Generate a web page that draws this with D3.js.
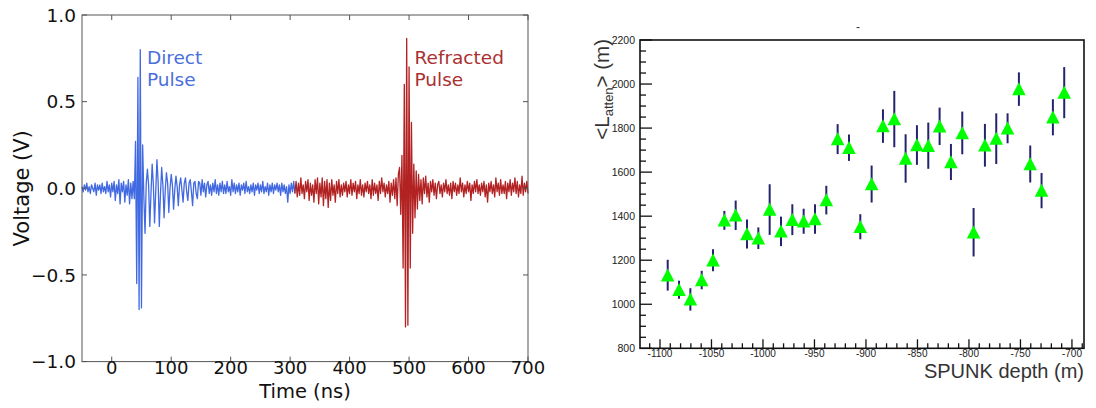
<!DOCTYPE html>
<html>
<head>
<meta charset="utf-8">
<script src="https://cdn.jsdelivr.net/npm/d3@7"></script>
<style>
  html, body { margin: 0; padding: 0; background: #fff; }
  svg { display: block; }
</style>
</head>
<body>
<svg id="fig" width="1096" height="408"></svg>
<script>
// ---------- Left panel: recorded waveform ----------
// Voltage samples (V), one every 2 ns starting at -50 ns.
const timeStartNs = -50;
const timeStepNs = 2;
const refractedStartNs = 308;
const voltage = [
  0.01, -0.02, 0.02, -0.01, 0.03, -0.02, 0.01, -0.03, 0.02, 0.00,
  -0.02, 0.03, -0.04, 0.02, -0.01, 0.02, -0.03, 0.03, -0.02, 0.01,
  -0.03, 0.04, -0.02, 0.02, -0.05, 0.03, -0.02, 0.04, -0.07, 0.02,
  -0.03, 0.05, -0.09, 0.03, -0.02, 0.04, -0.08, 0.02, -0.04, 0.05,
  -0.09, 0.03, -0.06, 0.04, -0.06, 0.27, -0.55, 0.64, -0.70, 0.80,
  -0.69, 0.25, -0.05, -0.26, 0.03, 0.11, 0.02, -0.22, -0.03, 0.14,
  0.02, -0.20, -0.02, 0.165, 0.04, -0.22, -0.03, 0.12, 0.02, -0.17,
  -0.01, 0.09, 0.03, -0.14, 0.00, 0.08, 0.02, -0.12, -0.01, 0.07,
  0.01, -0.10, 0.02, 0.06, -0.01, -0.08, 0.03, 0.06, -0.02, -0.07,
  0.03, 0.05, -0.02, -0.10, 0.03, 0.04, -0.03, -0.06, 0.04, 0.03,
  -0.04, 0.05, -0.02, 0.03, -0.05, 0.02, 0.04, -0.03, 0.02, -0.04,
  0.03, -0.02, 0.05, -0.03, 0.02, -0.04, 0.03, -0.02, 0.04, -0.03,
  0.02, -0.03, 0.04, -0.02, 0.01, -0.04, 0.05, -0.02, 0.03, -0.03,
  0.02, -0.02, 0.03, -0.04, 0.02, -0.01, 0.03, -0.03, 0.04, -0.02,
  0.01, -0.03, 0.02, -0.02, 0.03, -0.04, 0.02, -0.01, 0.03, -0.03,
  0.02, -0.02, 0.04, -0.03, 0.01, -0.02, 0.03, -0.04, 0.02, -0.02,
  0.03, -0.03, 0.02, -0.01, 0.03, -0.02, 0.02, -0.04, 0.03, -0.02,
  0.02, -0.03, 0.01, -0.08, 0.02, -0.03, 0.03, -0.02, 0.04, -0.03,
  0.04, -0.05, 0.03, -0.04, 0.06, -0.03, 0.02, -0.06, 0.04, -0.02,
  0.05, -0.07, 0.03, -0.04, 0.02, -0.08, 0.05, -0.03, 0.06, -0.09,
  0.03, -0.05, 0.06, -0.10, 0.04, -0.06, 0.05, -0.11, 0.03, -0.07,
  0.05, -0.04, 0.02, -0.08, 0.04, -0.03, 0.05, -0.05, 0.02, -0.04,
  0.03, -0.02, 0.04, -0.05, 0.02, -0.03, 0.05, -0.04, 0.03, -0.02,
  0.04, -0.06, 0.02, -0.03, 0.05, -0.04, 0.02, -0.05, 0.03, -0.02,
  0.04, -0.03, 0.02, -0.06, 0.05, -0.04, 0.03, -0.03, 0.02, -0.07,
  0.04, -0.03, 0.06, -0.02, 0.03, -0.05, 0.02, -0.03, 0.04, -0.08,
  0.03, -0.04, 0.05, -0.06, 0.06, -0.10, 0.08, 0.12, -0.15, 0.19,
  -0.46, 0.60, -0.80, 0.865, -0.79, 0.70, -0.46, 0.38, -0.26, 0.14,
  -0.17, 0.10, -0.12, 0.08, -0.07, 0.05, -0.09, 0.06, -0.03, 0.07,
  -0.05, 0.03, -0.08, 0.04, -0.02, 0.05, -0.04, 0.03, -0.06, 0.02,
  0.04, -0.03, 0.02, -0.05, 0.03, -0.02, 0.05, -0.03, 0.02, -0.04,
  0.03, -0.06, 0.04, -0.02, 0.03, -0.04, 0.02, -0.03, 0.06, -0.02,
  0.03, -0.05, 0.02, -0.03, 0.04, -0.02, 0.03, -0.07, 0.02, -0.03,
  0.04, -0.02, 0.05, -0.03, 0.02, -0.04, 0.03, -0.02, 0.04, -0.05,
  0.02, -0.08, 0.03, -0.02, 0.04, -0.03, 0.02, -0.05, 0.06, -0.02,
  0.03, -0.04, 0.05, -0.03, 0.02, -0.03, 0.04, -0.06, 0.03, -0.02,
  0.05, -0.04, 0.03, -0.02, 0.06, -0.03, 0.04, -0.05, 0.02, -0.03,
  0.07, -0.04, 0.03, -0.02, 0.04, -0.03
];
const timeTicks = [0, 100, 200, 300, 400, 500, 600, 700];
const voltTicks = [-1.0, -0.5, 0.0, 0.5, 1.0];
const pulseLabels = [
  { lines: ["Direct", "Pulse"], t: 60, v: 0.72, kind: "direct" },
  { lines: ["Refracted", "Pulse"], t: 510, v: 0.72, kind: "refracted" }
];

// ---------- Right panel: attenuation length vs depth ----------
const depths = [
  -1092.5, -1081.5, -1070.5, -1059.5, -1048.5, -1037.5, -1026.5, -1015.5, -1004.5, -993.5,
  -982.5, -971.5, -960.5, -949.5, -938.5, -927.5, -916.5, -905.5, -894.5, -883.5,
  -872.5, -861.5, -850.5, -839.5, -828.5, -817.5, -806.5, -795.5, -784.5, -773.5,
  -762.5, -751.5, -740.5, -729.5, -718.5, -707.5
];
const attenLength = [
  1132, 1066, 1022, 1110, 1200, 1381, 1404, 1319, 1300, 1430,
  1331, 1384, 1377, 1387, 1473, 1750, 1711, 1352, 1546, 1809,
  1841, 1662, 1723, 1720, 1808, 1646, 1778, 1327, 1722, 1752,
  1799, 1977, 1637, 1516, 1849, 1961
];
const attenError = [
  70, 41, 51, 42, 50, 43, 67, 66, 49, 115,
  67, 70, 57, 67, 65, 68, 60, 57, 84, 76,
  128, 110, 90, 105, 85, 82, 97, 110, 97, 115,
  68, 76, 84, 80, 82, 116
];
const depthMajorTicks = [-1100, -1050, -1000, -950, -900, -850, -800, -750, -700];
const lengthMajorTicks = [800, 1000, 1200, 1400, 1600, 1800, 2000, 2200];

const svg = d3.select("#fig");

// ===== Left panel =====
const L = { left: 82, right: 528, top: 15, bottom: 361.6 };
const xT = d3.scaleLinear().domain([-50, 700]).range([L.left, L.right]);
const yV = d3.scaleLinear().domain([-1, 1]).range([L.bottom, L.top]);
const leftFont = "'DejaVu Sans', sans-serif";
const blue = "#4169e1", red = "#b22222";

const gL = svg.append("g");

const samples = voltage.map((v, i) => ({ t: timeStartNs + i * timeStepNs, v }));
const directPart = samples.filter(d => d.t <= refractedStartNs);
const refractedPart = samples.filter(d => d.t >= refractedStartNs);
const trace = d3.line().x(d => xT(d.t)).y(d => yV(d.v));

gL.append("path").datum(directPart).attr("d", trace)
  .attr("fill", "none").attr("stroke", blue).attr("stroke-width", 1.3)
  .attr("stroke-linejoin", "round");
gL.append("path").datum(refractedPart).attr("d", trace)
  .attr("fill", "none").attr("stroke", red).attr("stroke-width", 1.3)
  .attr("stroke-linejoin", "round");

// frame
gL.append("rect").attr("x", L.left).attr("y", L.top)
  .attr("width", L.right - L.left).attr("height", L.bottom - L.top)
  .attr("fill", "none").attr("stroke", "#555").attr("stroke-width", 1);

// inward ticks on all four sides
const tk = 5;
timeTicks.forEach(t => {
  const x = xT(t);
  gL.append("line").attr("x1", x).attr("x2", x).attr("y1", L.bottom).attr("y2", L.bottom - tk).attr("stroke", "#555");
  gL.append("line").attr("x1", x).attr("x2", x).attr("y1", L.top).attr("y2", L.top + tk).attr("stroke", "#555");
});
voltTicks.forEach(v => {
  const y = yV(v);
  gL.append("line").attr("x1", L.left).attr("x2", L.left + tk).attr("y1", y).attr("y2", y).attr("stroke", "#555");
  gL.append("line").attr("x1", L.right).attr("x2", L.right - tk).attr("y1", y).attr("y2", y).attr("stroke", "#555");
});

// tick labels
gL.selectAll("text.xt").data(timeTicks).enter().append("text")
  .attr("x", d => xT(d)).attr("y", 374)
  .attr("text-anchor", "middle")
  .attr("font-family", leftFont).attr("font-size", 18).attr("fill", "#111")
  .text(d => d3.format("d")(d));
gL.selectAll("text.yt").data(voltTicks).enter().append("text")
  .attr("x", L.left - 6).attr("y", d => yV(d)).attr("dy", "0.36em")
  .attr("text-anchor", "end")
  .attr("font-family", leftFont).attr("font-size", 18.5).attr("fill", "#111")
  .text(d => d3.format(".1f")(d).replace("-", "\u2212"));

// axis titles
gL.append("text").attr("x", (L.left + L.right) / 2).attr("y", 397.5)
  .attr("text-anchor", "middle").attr("font-family", leftFont)
  .attr("font-size", 19.5).attr("fill", "#111").text("Time (ns)");
gL.append("text").attr("transform", `translate(29,${yV(0)}) rotate(-90)`)
  .attr("text-anchor", "middle").attr("font-family", leftFont)
  .attr("font-size", 21).attr("fill", "#111").text("Voltage (V)");

// pulse annotations
pulseLabels.forEach(p => {
  const txt = gL.append("text")
    .attr("font-family", leftFont).attr("font-size", 18.5)
    .attr("fill", p.kind === "direct" ? "#4a6fdc" : "#aa3030");
  p.lines.forEach((line, i) => {
    txt.append("tspan").attr("x", xT(p.t) - 0.5)
      .attr("y", yV(p.v) + 0.5 + i * 21.5).text(line);
  });
});

// ===== Right panel =====
const R = { left: 640, right: 1084, top: 40, bottom: 348.3 };
const xD = d3.scaleLinear().domain([-1119.4, -688.3]).range([R.left, R.right]);
const yL = d3.scaleLinear().domain([800, 2200]).range([R.bottom, R.top]);
const rightFont = "'Liberation Sans', Arial, sans-serif";
const gR = svg.append("g");

// minor / major ticks along depth
const depthMinor = d3.range(-1110, -689, 10);
depthMinor.forEach(d => {
  const major = d % 50 === 0;
  gR.append("line").attr("x1", xD(d)).attr("x2", xD(d))
    .attr("y1", R.bottom).attr("y2", R.bottom - (major ? 9 : 5))
    .attr("stroke", "#111").attr("stroke-width", 1.3);
});
const lengthMinor = d3.range(800, 2201, 50);
lengthMinor.forEach(v => {
  const major = v % 200 === 0;
  gR.append("line").attr("x1", R.left).attr("x2", R.left + (major ? 12 : 6))
    .attr("y1", yL(v)).attr("y2", yL(v))
    .attr("stroke", "#111").attr("stroke-width", 1.3);
});

gR.selectAll("text.dx").data(depthMajorTicks).enter().append("text")
  .attr("x", d => xD(d)).attr("y", 357)
  .attr("text-anchor", "middle").attr("font-family", rightFont)
  .attr("font-size", 10).attr("fill", "#222")
  .text(d => String(d));
gR.selectAll("text.ly").data(lengthMajorTicks).enter().append("text")
  .attr("x", 635).attr("y", d => yL(d)).attr("dy", "0.36em")
  .attr("text-anchor", "end").attr("font-family", rightFont)
  .attr("font-size", 10.5).attr("fill", "#222")
  .text(d => d);

// error bars
gR.selectAll("line.err").data(depths).enter().append("line")
  .attr("x1", d => xD(d)).attr("x2", d => xD(d))
  .attr("y1", (d, i) => yL(attenLength[i] + attenError[i]))
  .attr("y2", (d, i) => yL(attenLength[i] - attenError[i]))
  .attr("stroke", "#24246e").attr("stroke-width", 2);

// triangle markers
gR.selectAll("path.mk").data(depths).enter().append("path")
  .attr("d", (d, i) => {
    const cx = xD(d), cy = yL(attenLength[i]);
    return `M${cx},${cy - 6.8}L${cx + 6.8},${cy + 6.2}L${cx - 6.8},${cy + 6.2}Z`;
  })
  .attr("fill", "#00ff00");

// frame
gR.append("rect").attr("x", R.left).attr("y", R.top)
  .attr("width", R.right - R.left).attr("height", R.bottom - R.top)
  .attr("fill", "none").attr("stroke", "#111").attr("stroke-width", 1.6);

// axis titles
gR.append("text").attr("x", R.right).attr("y", 378)
  .attr("text-anchor", "end").attr("font-family", rightFont)
  .attr("font-size", 20).attr("fill", "#333").text("SPUNK depth (m)");

const yTitle = gR.append("text")
  .attr("transform", `translate(609,${R.top - 1}) rotate(-90)`)
  .attr("text-anchor", "end").attr("font-family", rightFont)
  .attr("font-size", 20.5).attr("fill", "#333");
yTitle.append("tspan").text("<L");
yTitle.append("tspan").attr("font-size", 13).attr("dy", 4).text("atten");
yTitle.append("tspan").attr("dy", -4).text("> (m)");

gR.append("text").attr("x", 858).attr("y", 31).attr("text-anchor", "middle")
  .attr("font-family", rightFont).attr("font-size", 12).attr("fill", "#333").text("-");
</script>
</body>
</html>
